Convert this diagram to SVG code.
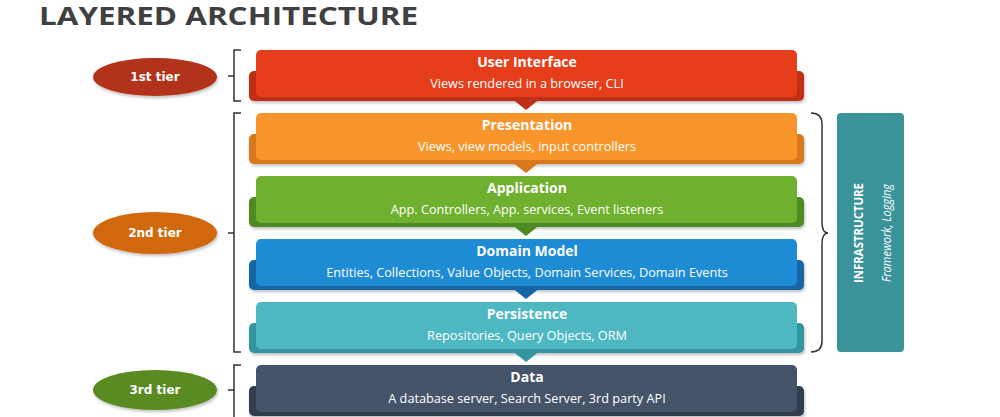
<svg xmlns="http://www.w3.org/2000/svg" width="1000" height="417" viewBox="0 0 1000 417">
<defs>
<filter id="sh" x="-10%" y="-10%" width="120%" height="130%">
<feDropShadow dx="1" dy="2" stdDeviation="1.5" flood-color="#000" flood-opacity="0.25"/>
</filter>
</defs>
<style>
.title{font-family:"Open Sans","Liberation Sans",sans-serif;font-weight:bold;font-size:25px;fill:#404040}
.lt{font-family:"Open Sans","Liberation Sans",sans-serif;font-weight:bold;font-size:14px;fill:#fff;text-anchor:middle}
.ls{font-family:"Open Sans","Liberation Sans",sans-serif;font-size:12.7px;fill:#fff;text-anchor:middle}
.tier{font-family:"DejaVu Sans",Verdana,sans-serif;font-weight:bold;font-size:12px;fill:#fff;text-anchor:middle}
.br{fill:none;stroke:#333;stroke-width:1.5}
.inf{font-family:"Open Sans","Liberation Sans",sans-serif;font-weight:bold;font-size:13px;fill:#fff;text-anchor:middle}
.infs{font-family:"Open Sans","Liberation Sans",sans-serif;font-style:italic;font-size:12px;fill:#fff;text-anchor:middle}
</style>
<rect width="1000" height="417" fill="#fff"/>
<text class="title" x="39" y="25" textLength="379" lengthAdjust="spacingAndGlyphs">LAYERED ARCHITECTURE</text>

<g id="tier1">
<ellipse cx="155" cy="77" rx="62" ry="19" fill="#B3321B" filter="url(#sh)"/>
<text class="tier" x="155" y="81">1st tier</text>
</g>
<g id="tier2">
<ellipse cx="155" cy="233" rx="62" ry="21" fill="#D1680F" filter="url(#sh)"/>
<text class="tier" x="155" y="237">2nd tier</text>
</g>
<g id="tier3">
<ellipse cx="155" cy="390" rx="62" ry="20" fill="#5A8A22" filter="url(#sh)"/>
<text class="tier" x="155" y="394">3rd tier</text>
</g>

<g id="layer-ui">
<rect x="249" y="71" width="555" height="30" rx="5" fill="#BF2F17" filter="url(#sh)"/>
<polygon points="511,98 541,98 526,110" fill="#BF2F17"/>
<rect x="256" y="50" width="541" height="47" rx="5" fill="#E63E1A"/>
<text class="lt" x="527" y="67">User Interface</text>
<text class="ls" x="527" y="88">Views rendered in a browser, CLI</text>
</g>
<g id="layer-presentation">
<rect x="249" y="134" width="555" height="30" rx="5" fill="#D8781A" filter="url(#sh)"/>
<polygon points="511,161 541,161 526,173" fill="#D8781A"/>
<rect x="256" y="113" width="541" height="47" rx="5" fill="#F7952A"/>
<text class="lt" x="527" y="130">Presentation</text>
<text class="ls" x="527" y="151">Views, view models, input controllers</text>
</g>
<g id="layer-application">
<rect x="249" y="197" width="555" height="30" rx="5" fill="#4E8A23" filter="url(#sh)"/>
<polygon points="511,224 541,224 526,236" fill="#4E8A23"/>
<rect x="256" y="176" width="541" height="47" rx="5" fill="#6FB02E"/>
<text class="lt" x="527" y="193">Application</text>
<text class="ls" x="527" y="214">App. Controllers, App. services, Event listeners</text>
</g>
<g id="layer-domain">
<rect x="249" y="260" width="555" height="30" rx="5" fill="#1566A6" filter="url(#sh)"/>
<polygon points="511,287 541,287 526,299" fill="#1566A6"/>
<rect x="256" y="239" width="541" height="47" rx="5" fill="#1E8CD5"/>
<text class="lt" x="527" y="256">Domain Model</text>
<text class="ls" x="527" y="277">Entities, Collections, Value Objects, Domain Services, Domain Events</text>
</g>
<g id="layer-persistence">
<rect x="249" y="323" width="555" height="30" rx="5" fill="#35959E" filter="url(#sh)"/>
<polygon points="511,350 541,350 526,362" fill="#35959E"/>
<rect x="256" y="302" width="541" height="47" rx="5" fill="#4DB8C1"/>
<text class="lt" x="527" y="319">Persistence</text>
<text class="ls" x="527" y="340">Repositories, Query Objects, ORM</text>
</g>
<g id="layer-data">
<rect x="249" y="386" width="555" height="30" rx="5" fill="#313D50" filter="url(#sh)"/>
<rect x="256" y="365" width="541" height="47" rx="5" fill="#46546A"/>
<text class="lt" x="527" y="382">Data</text>
<text class="ls" x="527" y="403">A database server, Search Server, 3rd party API</text>
</g>

<g id="infrastructure">
<rect x="837" y="113" width="67" height="239" rx="4" fill="#3A9399"/>
<text class="inf" transform="translate(863,233) rotate(-90)" x="0" y="0" textLength="100" lengthAdjust="spacingAndGlyphs">INFRASTRUCTURE</text>
<text class="infs" transform="translate(891,233) rotate(-90)" x="0" y="0" textLength="98" lengthAdjust="spacingAndGlyphs">Framework, Logging</text>
</g>

<g id="connectors">
<path class="br" d="M241,50 H234 V101 H241 M234,76 H228"/>
<path class="br" d="M241,113 H234 V352 H241 M234,233 H228"/>
<path class="br" d="M241,365 H234 V420 M234,390 H228"/>
<path class="br" d="M811,113 Q822,113 822,124 V222 Q822,233 828,233 Q822,233 822,244 V341 Q822,352 811,352"/>
</g>
</svg>
